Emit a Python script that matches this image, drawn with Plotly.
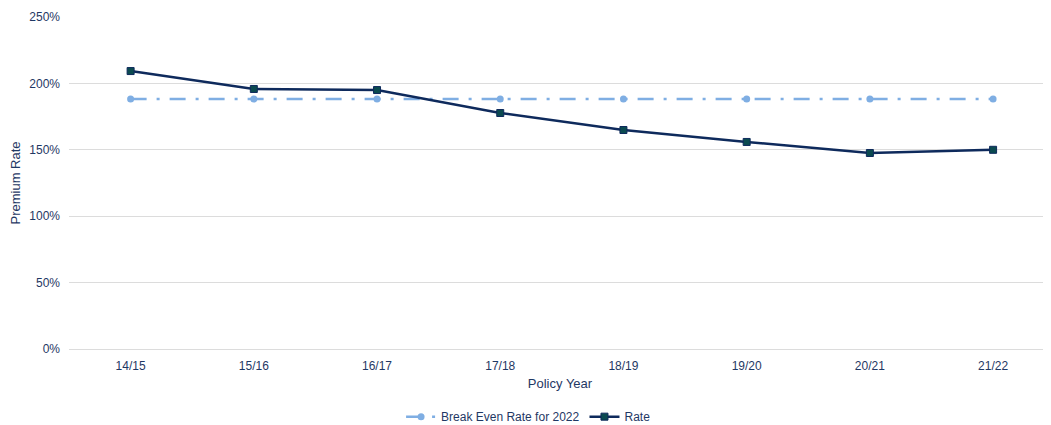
import plotly.graph_objects as go

years = ["14/15", "15/16", "16/17", "17/18", "18/19", "19/20", "20/21", "21/22"]
rate = [2.093, 1.958, 1.950, 1.777, 1.649, 1.559, 1.476, 1.500]
break_even = [1.883] * 8
y_ticks = [0, 0.5, 1.0, 1.5, 2.0, 2.5]

text_col = "#1F3864"

fig = go.Figure()
fig.add_trace(go.Scatter(
    x=years, y=break_even, name="Break Even Rate for 2022", mode="lines+markers",
    line=dict(color="#7FAEE3", width=2.5, dash="16px,10px,3px,10px"),
    marker=dict(symbol="circle", size=7, color="#7FAEE3"),
))
fig.add_trace(go.Scatter(
    x=years, y=rate, name="Rate", mode="lines+markers",
    line=dict(color="#0E2A5C", width=2.5),
    marker=dict(symbol="square", size=7, color="#0B4A50", line=dict(color="#0E2A5C", width=1)),
))

# page body adds an 8px offset, so the figure is sized to fit the window
fig.update_layout(
    width=1043, height=417,
    margin=dict(l=61, r=0, t=9, b=76),
    paper_bgcolor="white", plot_bgcolor="white",
    font=dict(family="Liberation Sans, Arial, sans-serif", size=12, color=text_col),
    xaxis=dict(
        type="category", range=[-0.5, 7.47], showgrid=False, automargin=False,
        showline=False, ticks="", tickfont=dict(size=12, color=text_col),
        ticklabelstandoff=8,
        title=dict(text="Policy Year", font=dict(size=13, color=text_col), standoff=6),
    ),
    yaxis=dict(
        range=[0, 2.5], tickvals=y_ticks, tickformat=".0%", automargin=False,
        showgrid=True, gridcolor="#DCDCDC", gridwidth=1,
        zeroline=True, zerolinecolor="#DCDCDC", zerolinewidth=1,
        tickfont=dict(size=12, color=text_col), ticks="", ticklabelstandoff=8,
        title=dict(text="Premium Rate", font=dict(size=13, color=text_col)),
    ),
    legend=dict(orientation="h", x=0.468, xanchor="center", yref="container",
                y=0.02, yanchor="middle", font=dict(size=12, color=text_col)),
    showlegend=True,
)

fig.write_html("out.html")
